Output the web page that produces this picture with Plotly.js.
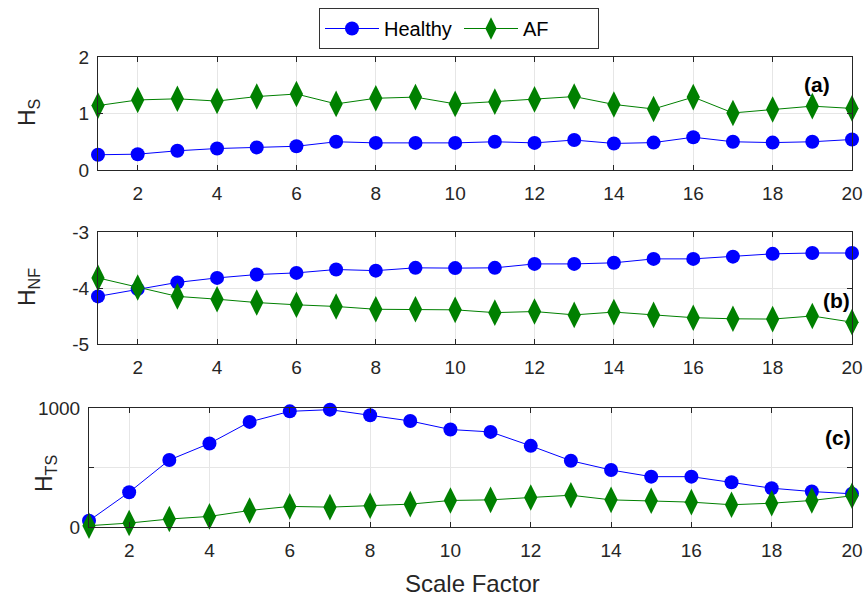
<!DOCTYPE html>
<html>
<head>
<meta charset="utf-8">
<script src="https://cdn.plot.ly/plotly-3.0.1.min.js"></script>
<style>html,body{margin:0;padding:0;background:#fff;}#chart{width:866px;height:597px;}</style>
</head>
<body>
<div id="chart"></div>
<script>
const scaleFactor = [1,2,3,4,5,6,7,8,9,10,11,12,13,14,15,16,17,18,19,20];
const hsHealthy = [0.27,0.28,0.34,0.38,0.40,0.42,0.50,0.48,0.48,0.48,0.50,0.48,0.53,0.47,0.485,0.58,0.50,0.485,0.50,0.54];
const hsAF = [1.14,1.24,1.26,1.22,1.30,1.345,1.17,1.27,1.29,1.17,1.21,1.25,1.30,1.16,1.08,1.29,1.01,1.07,1.13,1.09];
const hnfHealthy = [-4.15,-4.02,-3.90,-3.82,-3.76,-3.73,-3.67,-3.69,-3.64,-3.645,-3.64,-3.57,-3.57,-3.55,-3.48,-3.48,-3.44,-3.39,-3.375,-3.375];
const hnfAF = [-3.82,-3.99,-4.15,-4.20,-4.26,-4.30,-4.33,-4.38,-4.38,-4.39,-4.44,-4.42,-4.48,-4.43,-4.48,-4.53,-4.55,-4.555,-4.50,-4.61];
const htsHealthy = [53,292,563,702,883,972,986,939,891,819,799,682,557,479,423,423,376,326,298,279];
const htsAF = [11,33,67,89,139,173,167,178,192,223,228,248,267,228,220,209,187,200,223,262];
const xTicks = [2,4,6,8,10,12,14,16,18,20];
const panelLabels = ['(a)','(b)','(c)'];
const yTitles = ['H<sub>S</sub>','H<sub>NF</sub>','H<sub>TS</sub>'];
const xTitle = 'Scale Factor';

const blue = '#0000ff', green = '#008000';
const font = 'Liberation Sans, Arial, sans-serif';
const txt = '#262626';
const W = 866, H = 597, L = 89, R = 14;
const px = v => (v - L) / (W - L - R);
const py = v => 1 - v / H;

function tr(y, isH, xa, ya, show) {
  return {
    x: scaleFactor, y: y, xaxis: xa, yaxis: ya, type: 'scatter', mode: 'lines+markers',
    name: isH ? 'Healthy' : 'AF', showlegend: show, cliponaxis: false,
    line: {color: isH ? blue : green, width: 1},
    marker: isH ? {symbol: 'circle', size: 14, color: blue} : {symbol: 'diamond-tall', size: 19, color: green}
  };
}
const data = [
  tr(hsHealthy, true, 'x', 'y', true), tr(hsAF, false, 'x', 'y', true),
  tr(hnfHealthy, true, 'x2', 'y2', false), tr(hnfAF, false, 'x2', 'y2', false),
  tr(htsHealthy, true, 'x3', 'y3', false), tr(htsAF, false, 'x3', 'y3', false)
];

function xa(anchor, dom) {
  return {anchor: anchor, domain: dom, range: [1,20], tickvals: xTicks, ticks: 'inside', ticklen: 5,
    showline: true, mirror: 'ticks', linecolor: txt, linewidth: 1, tickcolor: txt,
    showgrid: true, gridcolor: '#e6e6e6', zeroline: false, ticklabelstandoff: 6,
    tickfont: {family: font, size: 19, color: txt}};
}
function ya(anchor, dom, range, tv, tt) {
  return {anchor: anchor, domain: dom, range: range, tickvals: tv, ticktext: tt, ticks: 'inside', ticklen: 5,
    showline: true, mirror: 'ticks', linecolor: txt, linewidth: 1, tickcolor: txt,
    showgrid: true, gridcolor: '#e6e6e6', zeroline: false, ticklabelstandoff: 4,
    tickfont: {family: font, size: 19, color: txt}};
}
function ytitle(i, x, y) {
  return {text: yTitles[i], xref: 'paper', yref: 'paper', x: px(x), y: py(y), xanchor: 'center', yanchor: 'middle',
    textangle: -90, showarrow: false, font: {family: font, size: 23, color: txt}};
}
function plabel(i, x, y) {
  return {text: '<b>' + panelLabels[i] + '</b>', xref: 'paper', yref: 'paper', x: px(x), y: py(y),
    xanchor: 'center', yanchor: 'middle', showarrow: false, font: {family: font, size: 21, color: '#000'}};
}
const layout = {
  width: W, height: H,
  margin: {l: L, r: R, t: 0, b: 0},
  paper_bgcolor: '#fff', plot_bgcolor: '#fff',
  showlegend: true,
  legend: {orientation: 'h', x: px(459), xanchor: 'center', y: py(8), yanchor: 'top',
    bordercolor: '#333', borderwidth: 1, bgcolor: '#fff',
    font: {family: font, size: 20, color: '#000'}, itemwidth: 54, entrywidth: 70},
  xaxis: xa('y', [px(98), 1]), xaxis2: xa('y2', [px(98), 1]), xaxis3: xa('y3', [0, 1]),
  yaxis: ya('x', [py(170), py(57)], [0,2], [0,1,2], ['0','1','2']),
  yaxis2: ya('x2', [py(344), py(232)], [-5,-3], [-5,-4,-3], ['-5','-4','-3']),
  yaxis3: ya('x3', [py(527), py(408)], [0,1000], [0,500,1000], ['0','','1000']),
  annotations: [
    ytitle(0, 28, 113), ytitle(1, 28, 287), ytitle(2, 45, 474),
    plabel(0, 817, 85), plabel(1, 836, 300), plabel(2, 838, 437),
    {text: xTitle, xref: 'paper', yref: 'paper', x: px(472), y: py(583), xanchor: 'center', yanchor: 'middle',
     showarrow: false, font: {family: font, size: 24, color: txt}}
  ]
};
Plotly.newPlot('chart', data, layout, {displayModeBar: false, staticPlot: true});
</script>
</body>
</html>
